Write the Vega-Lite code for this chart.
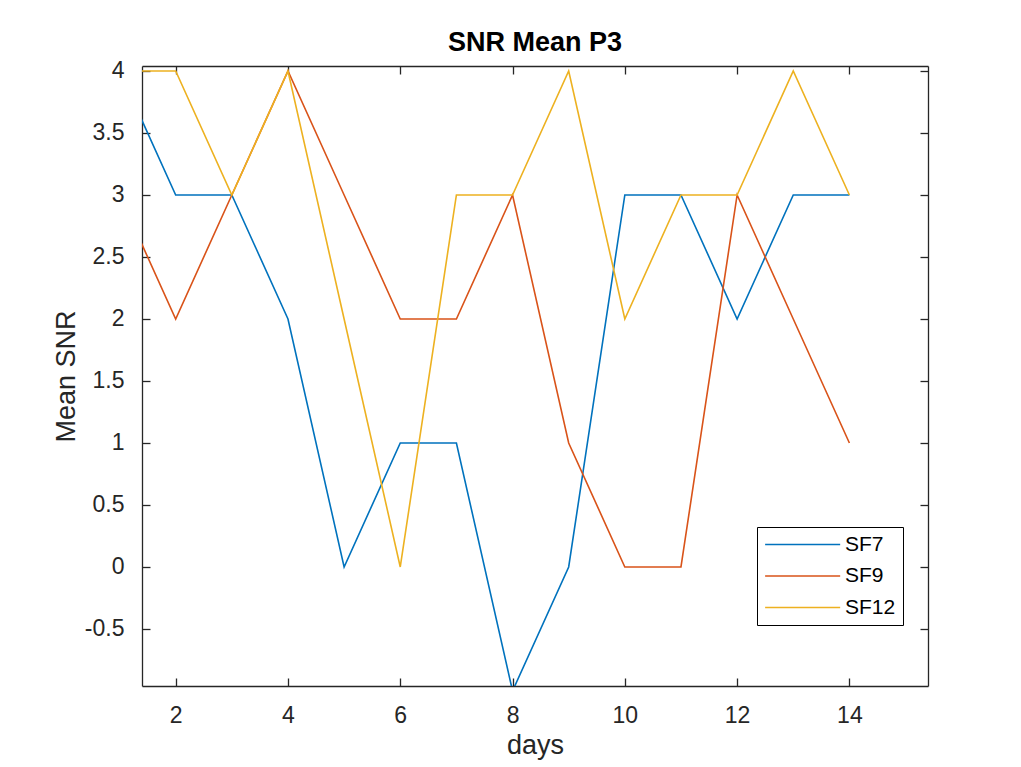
{
  "$schema": "https://vega.github.io/schema/vega-lite/v6.json",
  "autosize": "none",
  "width": 786,
  "height": 620,
  "padding": {"left": 142, "top": 66, "right": 93, "bottom": 81},
  "background": "white",
  "title": {
    "text": "SNR Mean  P3",
    "font": "Liberation Sans",
    "fontSize": 27,
    "fontWeight": "bold",
    "color": "black",
    "anchor": "middle",
    "offset": 3
  },
  "config": {
    "view": {"stroke": null},
    "axis": {
      "grid": false,
      "domainColor": "#262626",
      "domainWidth": 1.3,
      "tickColor": "#262626",
      "tickWidth": 1.3,
      "tickSize": -8,
      "labelFont": "Liberation Sans",
      "labelFontSize": 23,
      "labelColor": "#262626",
      "titleFont": "Liberation Sans",
      "titleFontSize": 27,
      "titleFontWeight": "normal",
      "titleColor": "#262626"
    }
  },
  "data": {
    "values": [
      {"day": 1, "snr": 4, "sf": "SF7"},
      {"day": 2, "snr": 3, "sf": "SF7"},
      {"day": 3, "snr": 3, "sf": "SF7"},
      {"day": 4, "snr": 2, "sf": "SF7"},
      {"day": 5, "snr": 0, "sf": "SF7"},
      {"day": 6, "snr": 1, "sf": "SF7"},
      {"day": 7, "snr": 1, "sf": "SF7"},
      {"day": 8, "snr": -1, "sf": "SF7"},
      {"day": 9, "snr": 0, "sf": "SF7"},
      {"day": 10, "snr": 3, "sf": "SF7"},
      {"day": 11, "snr": 3, "sf": "SF7"},
      {"day": 12, "snr": 2, "sf": "SF7"},
      {"day": 13, "snr": 3, "sf": "SF7"},
      {"day": 14, "snr": 3, "sf": "SF7"},
      {"day": 1, "snr": 3, "sf": "SF9"},
      {"day": 2, "snr": 2, "sf": "SF9"},
      {"day": 3, "snr": 3, "sf": "SF9"},
      {"day": 4, "snr": 4, "sf": "SF9"},
      {"day": 5, "snr": 3, "sf": "SF9"},
      {"day": 6, "snr": 2, "sf": "SF9"},
      {"day": 7, "snr": 2, "sf": "SF9"},
      {"day": 8, "snr": 3, "sf": "SF9"},
      {"day": 9, "snr": 1, "sf": "SF9"},
      {"day": 10, "snr": 0, "sf": "SF9"},
      {"day": 11, "snr": 0, "sf": "SF9"},
      {"day": 12, "snr": 3, "sf": "SF9"},
      {"day": 13, "snr": 2, "sf": "SF9"},
      {"day": 14, "snr": 1, "sf": "SF9"},
      {"day": 1, "snr": 4, "sf": "SF12"},
      {"day": 2, "snr": 4, "sf": "SF12"},
      {"day": 3, "snr": 3, "sf": "SF12"},
      {"day": 4, "snr": 4, "sf": "SF12"},
      {"day": 5, "snr": 2, "sf": "SF12"},
      {"day": 6, "snr": 0, "sf": "SF12"},
      {"day": 7, "snr": 3, "sf": "SF12"},
      {"day": 8, "snr": 3, "sf": "SF12"},
      {"day": 9, "snr": 4, "sf": "SF12"},
      {"day": 10, "snr": 2, "sf": "SF12"},
      {"day": 11, "snr": 3, "sf": "SF12"},
      {"day": 12, "snr": 3, "sf": "SF12"},
      {"day": 13, "snr": 4, "sf": "SF12"},
      {"day": 14, "snr": 3, "sf": "SF12"}
    ]
  },
  "resolve": {"axis": {"x": "independent", "y": "independent"}},
  "layer": [
    {
      "mark": {"type": "line", "clip": true, "strokeWidth": 1.6},
      "encoding": {
        "x": {
          "field": "day",
          "type": "quantitative",
          "scale": {"domain": [1.4, 15.4], "nice": false, "zero": false},
          "axis": {"values": [2, 4, 6, 8, 10, 12, 14], "title": "days", "labelPadding": 26, "titlePadding": 5}
        },
        "y": {
          "field": "snr",
          "type": "quantitative",
          "scale": {"domain": [-0.96, 4.04], "nice": false, "zero": false},
          "axis": {"values": [-0.5, 0, 0.5, 1, 1.5, 2, 2.5, 3, 3.5, 4], "labelExpr": "'' + datum.value", "title": "Mean SNR", "labelPadding": 26, "titlePadding": 4}
        },
        "color": {
          "field": "sf",
          "type": "nominal",
          "sort": ["SF7", "SF9", "SF12"],
          "scale": {"domain": ["SF7", "SF9", "SF12"], "range": ["#0072BD", "#D95319", "#EDB120"]},
          "legend": {
            "title": null,
            "orient": "none",
            "legendX": 615,
            "legendY": 461,
            "direction": "vertical",
            "symbolType": "M-1,0H7",
            "symbolSize": 352,
            "symbolStrokeWidth": 1.6,
            "labelFont": "Liberation Sans",
            "labelFontSize": 21,
            "labelColor": "black",
            "labelOffset": 60,
            "rowPadding": 9.5,
            "padding": 7,
            "strokeColor": "black",
            "fillColor": "white",
            "cornerRadius": 0
          }
        }
      }
    },
    {
      "mark": {"type": "line", "opacity": 0},
      "encoding": {
        "x": {
          "field": "day",
          "type": "quantitative",
          "axis": {"orient": "top", "values": [2, 4, 6, 8, 10, 12, 14], "labels": false, "title": null}
        },
        "y": {
          "field": "snr",
          "type": "quantitative",
          "axis": {"orient": "right", "values": [-0.5, 0, 0.5, 1, 1.5, 2, 2.5, 3, 3.5, 4], "labels": false, "title": null}
        },
        "detail": {"field": "sf"}
      }
    }
  ]
}
